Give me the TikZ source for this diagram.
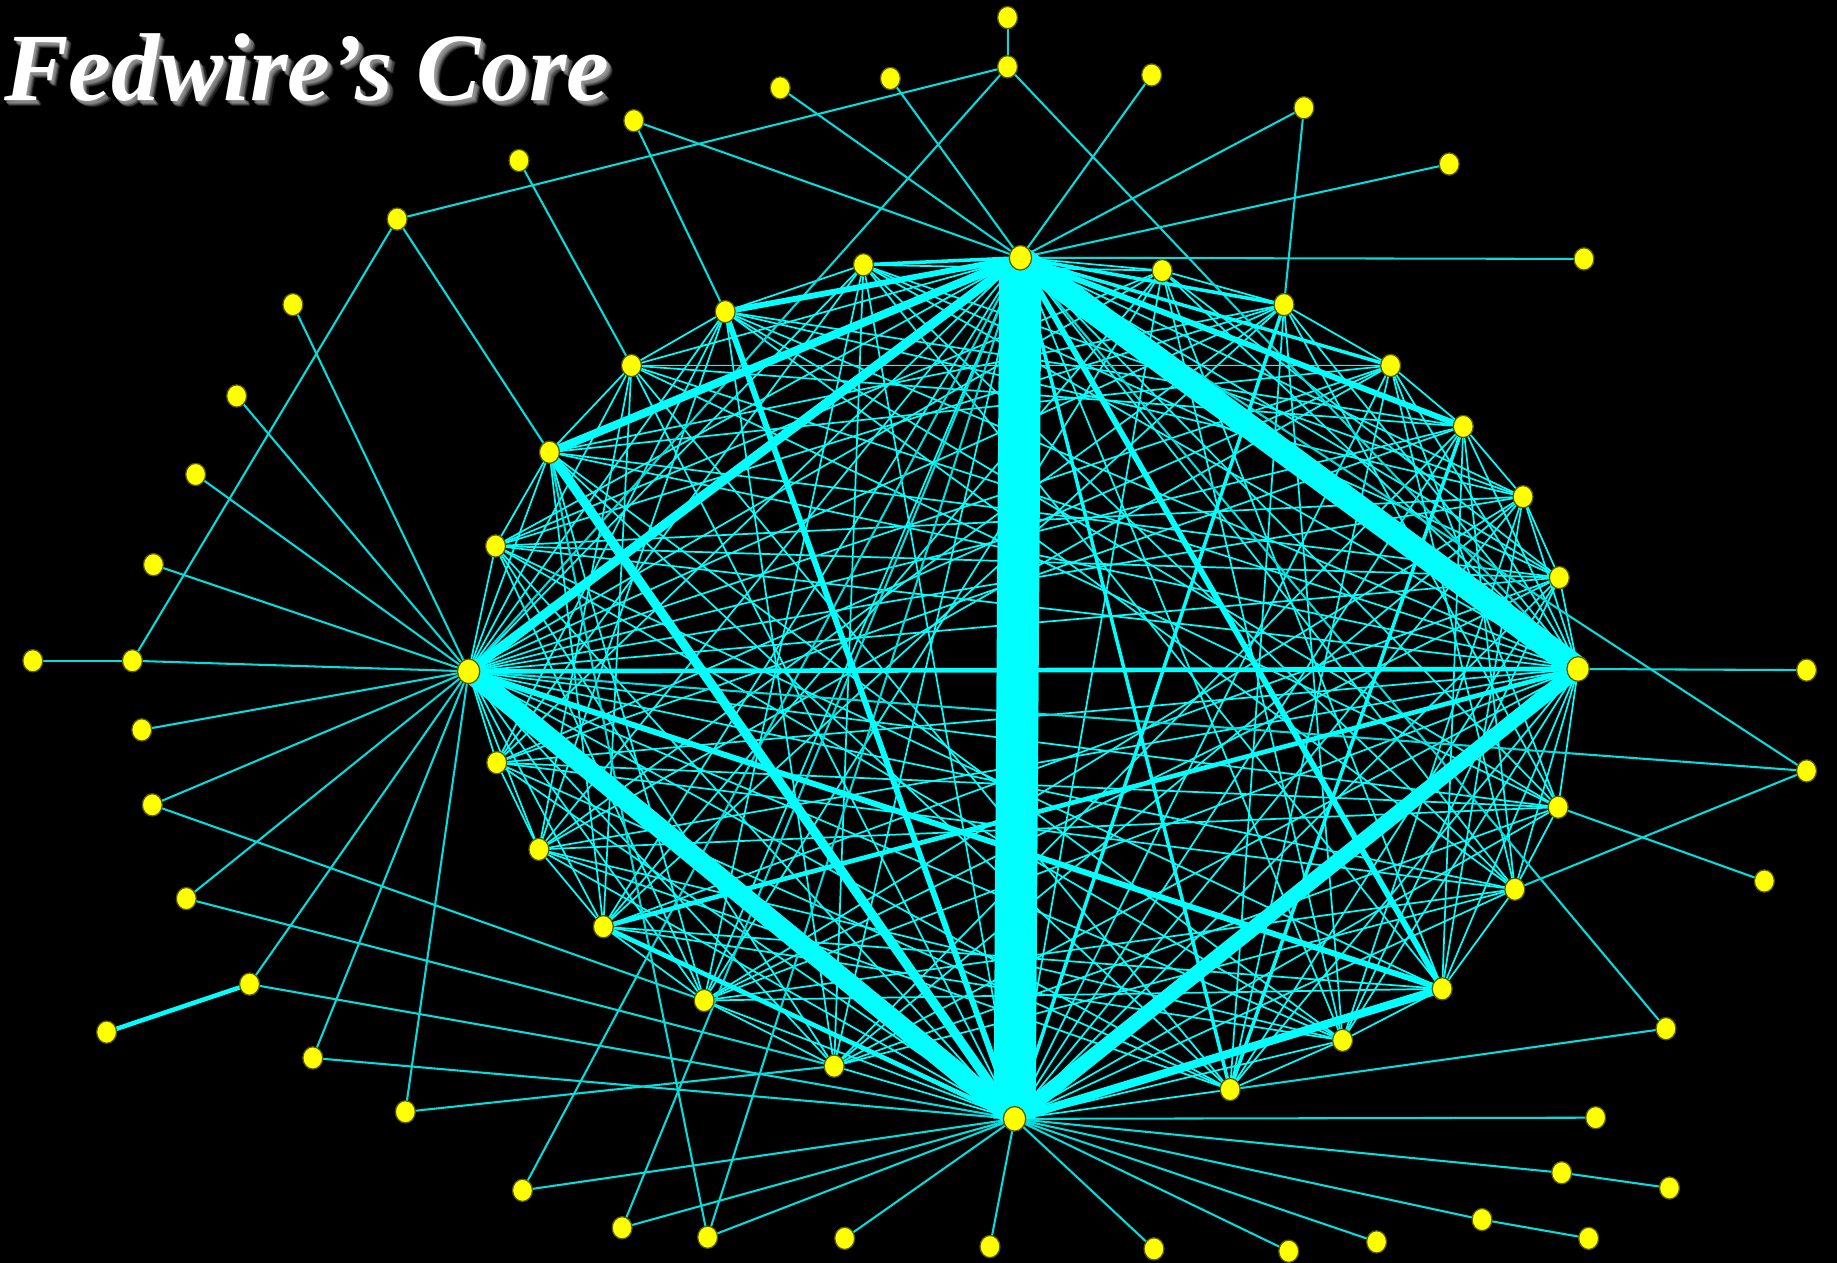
\documentclass[tikz,border=0pt]{standalone}
\usepackage{fontspec}
\setmainfont{Liberation Serif}
\usetikzlibrary{shapes.geometric}
\definecolor{cyn}{RGB}{0,255,255}
\definecolor{ylw}{RGB}{255,255,0}
\definecolor{nodeedge}{RGB}{90,90,0}
\begin{document}
\begin{tikzpicture}[x=0.1mm,y=-0.1mm,
  dot/.style={ellipse,fill=ylw,draw=nodeedge,line width=0.3pt,minimum width=1.7mm,minimum height=1.9mm,inner sep=0pt},
  hub/.style={dot,minimum width=1.9mm,minimum height=2.1mm},
  thinedge/.style={draw=cyn,line width=0.42pt},
  spoke/.style={draw=cyn!88!black,line width=0.5pt},
  heavy/.style={draw=cyn,line width=#1}]
\useasboundingbox (0,0) rectangle (1568,1078);
\fill[black] (0,0) rectangle (1568,1078);
% core coordinates
\foreach \n/\x/\y in {1/871/220,2/992/231,3/1096/260,4/1187/312,5/1249/364,6/1300/424,7/1331/493,8/1347/571,9/1330/689,10/1293/759,11/1231/844,12/1146/888,13/1050/930,14/866/955,15/712/910,16/601/854,17/515/791,18/460/725,19/424/651,20/400/573,21/423/466,22/469/386,23/539/312,24/619/266,25/737/226}
  \coordinate (c\n) at (\x,\y);
% peripheral coordinates
\foreach \n/\x/\y in {1/860/15,2/860/57,3/666/75,4/760/67,5/983/64,6/1113/92,7/1237/140,8/1352/221,9/541/103,10/443/137,11/339/187,12/250/260,13/202/338,14/167/405,15/131/482,16/28/564,17/113/564,18/121/623,19/130/687,20/159/767,21/213/840,22/91/881,23/267/903,24/346/949,25/446/1016,26/531/1048,27/604/1056,28/721/1057,29/845/1064,30/985/1066,31/1100/1068,32/1175/1060,33/1265/1041,34/1356/1057,35/1425/1014,36/1333/1001,37/1362/954,38/1422/878,39/1506/752,40/1542/658,41/1542/572}
  \coordinate (p\n) at (\x,\y);
% core mesh (hubs linked to all, others to a part)
\foreach \i in {1,...,24}{
  \pgfmathtruncatemacro{\s}{\i+1}
  \foreach \j in {\s,...,25}{
    \pgfmathtruncatemacro{\k}{mod(\i*7+\j*11,9)}
    \pgfmathtruncatemacro{\h}{(\i==1)||(\i==8)||(\i==14)||(\i==20)||(\j==8)||(\j==14)||(\j==20)||(\j==\i+1)||(\k<4)}
    \ifnum\h=1 \draw[thinedge] (c\i) -- (c\j);\fi
  }
}
% peripheral links
\foreach \a/\b in {p1/p2,p2/p11,p2/c20,p2/c8,p3/c1,p4/c1,p5/c1,p6/c1,p6/c3,p7/c1,p8/c1,p9/c1,p9/c24,p10/c23,p11/c22,p11/p17,p12/c20,p13/c20,p14/c20,p15/c20,p16/p17,p17/c20,p18/c20,p19/c20,p19/c16,p20/c20,p20/c15,p21/c20,p21/c14,p23/c20,p23/c14,p24/c20,p24/c15,p25/c1,p25/c14,p26/c1,p26/c14,p27/c22,p27/c1,p27/c14,p28/c14,p29/c14,p30/c14,p31/c14,p32/c14,p33/c14,p33/p34,p36/c14,p36/p35,p37/c14,p38/c1,p38/c13,p39/c9,p40/c1,p40/c20,p40/c10,p41/c8}
  \draw[spoke] (\a) -- (\b);
\draw[heavy=1.1pt] (p21) -- (p22);
% heavier core links
\foreach \a/\b/\w in {c1/c4/0.3mm,c1/c3/0.3mm,c1/c25/0.3mm,c1/c13/0.3mm,c3/c14/0.3mm,c5/c13/0.3mm,c20/c8/0.4mm,c8/c17/0.4mm,c17/c14/0.4mm,c1/c24/0.5mm,c24/c14/0.5mm,c1/c5/0.5mm,c1/c11/0.5mm,c20/c11/0.5mm,c1/c22/0.7mm,c11/c14/0.7mm,c1/c20/0.8mm,c22/c14/0.8mm,c8/c14/1.3mm,c20/c14/1.7mm,c1/c8/2.1mm,c1/c14/3.6mm}
  \draw[heavy=\w] (\a) -- (\b);
% nodes
\foreach \n in {2,...,7,9,10,11,12,13,15,16,17,18,19,21,22,23,24,25}
  \node[dot] (n\n) at (c\n) {};
\foreach \n in {1,8,14,20}
  \node[hub] (n\n) at (c\n) {};
\foreach \n in {1,...,41}
  \node[dot] (q\n) at (p\n) {};
% title
\foreach \d/\o in {1/0.5,2/0.45,3/0.4,4/0.3,5/0.2}
  \node[anchor=base west,text=gray!70,opacity=\o,font=\fontsize{23.4pt}{23.4pt}\selectfont\bfseries\itshape] (sh\d) at (-9+\d,86+\d) {Fedwire’s Core};
\node[anchor=base west,text=white,font=\fontsize{23.4pt}{23.4pt}\selectfont\bfseries\itshape] (title) at (-9,86) {Fedwire’s Core};
\end{tikzpicture}
\end{document}
